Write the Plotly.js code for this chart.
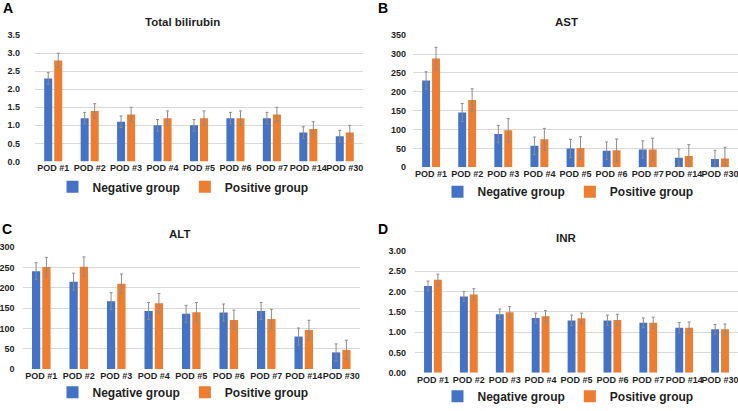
<!DOCTYPE html>
<html>
<head>
<meta charset="utf-8">
<script src="https://cdn.plot.ly/plotly-3.0.1.min.js"></script>
<style>html,body{margin:0;padding:0;background:#fff;}#chart{width:738px;height:411px;}</style>
</head>
<body>
<div id="chart"></div>
<script>
const categories = ['POD #1','POD #2','POD #3','POD #4','POD #5','POD #6','POD #7','POD #14','POD #30'];

const tbilNeg = [2.3, 1.2, 1.1, 1.0, 1.0, 1.2, 1.2, 0.8, 0.7];
const tbilPos = [2.8, 1.4, 1.3, 1.2, 1.2, 1.2, 1.3, 0.9, 0.8];
const tbilNegErr = [0.16, 0.16, 0.16, 0.16, 0.16, 0.16, 0.16, 0.16, 0.16];
const tbilPosErr = [0.2, 0.2, 0.2, 0.2, 0.2, 0.2, 0.2, 0.2, 0.2];

const astNeg = [230, 145, 88, 57, 50, 44, 47, 25, 22];
const astPos = [288, 178, 98, 74, 51, 45, 47, 30, 23];
const astNegErr = [23, 24, 23, 23, 24, 23, 23, 23, 23];
const astPosErr = [30, 30, 31, 29, 30, 30, 30, 30, 30];

const altNeg = [241, 215, 167, 143, 136, 139, 143, 80, 41];
const altPos = [251, 252, 210, 162, 140, 121, 123, 96, 47];
const altNegErr = [21, 21, 21, 21, 21, 21, 21, 21, 21];
const altPosErr = [24, 24, 24, 24, 24, 24, 24, 24, 24];

const inrNeg = [2.14, 1.88, 1.44, 1.35, 1.29, 1.29, 1.23, 1.11, 1.07];
const inrPos = [2.29, 1.93, 1.49, 1.39, 1.34, 1.30, 1.23, 1.11, 1.07];
const inrNegErr = [0.12, 0.12, 0.13, 0.12, 0.13, 0.13, 0.12, 0.13, 0.12];
const inrPosErr = [0.14, 0.14, 0.14, 0.14, 0.13, 0.14, 0.14, 0.14, 0.13];

const seriesNames = ['Negative group', 'Positive group'];
const colors = ['#4472C4', '#ED7D31'];

const panels = [
  {neg: tbilNeg, pos: tbilPos, ne: tbilNegErr, pe: tbilPosErr, ax: ''},
  {neg: astNeg, pos: astPos, ne: astNegErr, pe: astPosErr, ax: '2'},
  {neg: altNeg, pos: altPos, ne: altNegErr, pe: altPosErr, ax: '3'},
  {neg: inrNeg, pos: inrPos, ne: inrNegErr, pe: inrPosErr, ax: '4'}
];

const FAMILY = 'Liberation Sans';
const TEXT = '#1f1f1f';

const traces = [];
panels.forEach((p, i) => {
  const legendId = i === 0 ? 'legend' : 'legend' + (i + 1);
  [[p.neg, p.ne], [p.pos, p.pe]].forEach((s, j) => {
    traces.push({
      type: 'bar',
      x: categories,
      y: s[0],
      name: '<b>' + seriesNames[j] + '</b>',
      marker: {color: colors[j]},
      error_y: {type: 'data', array: s[1], visible: true, color: '#8c8c8c', thickness: 1, width: 1.5},
      xaxis: 'x' + p.ax,
      yaxis: 'y' + p.ax,
      legend: legendId,
      hoverinfo: 'x+y'
    });
  });
});

const tickFont = {family: FAMILY, size: 9, color: TEXT, weight: 700};
function xa(domain, range) {
  return {domain: domain, range: range, type: 'category', showgrid: false, zeroline: false, showline: false,
          ticks: '', tickangle: 0, tickfont: tickFont, fixedrange: true,
          tickmode: 'array', tickvals: categories, ticktext: categories.map(c => '<b>' + c + '</b>')};
}
function ya(domain, range, dtick, fmt, standoff) {
  return {domain: domain, range: range, dtick: dtick, tickformat: fmt, showgrid: true, gridcolor: '#d9d9d9',
          gridwidth: 1, zeroline: false, showline: false, ticks: '', tickfont: tickFont,
          tickprefix: '<b>', ticksuffix: '</b>',
          ticklabelstandoff: standoff, fixedrange: true};
}

const legFont = {family: FAMILY, size: 12, color: TEXT, weight: 700};
function leg(x, y) {
  return {orientation: 'h', x: x, y: y, xanchor: 'center', yanchor: 'middle', font: legFont,
          bgcolor: 'rgba(0,0,0,0)', itemclick: false, itemdoubleclick: false, traceorder: 'normal', itemwidth: 30};
}

const titleFont = {family: FAMILY, size: 11.5, color: TEXT, weight: 700};
const letterFont = {family: FAMILY, size: 14, color: '#000', weight: 700};
function ann(text, x, y, font, xanchor) {
  return {text: '<b>' + text + '</b>', x: x, y: y, xref: 'paper', yref: 'paper', showarrow: false, font: font,
          xanchor: xanchor, yanchor: 'middle'};
}

const layout = {
  width: 738, height: 411,
  margin: {l: 0, r: 0, t: 0, b: 0},
  paper_bgcolor: '#fff', plot_bgcolor: '#fff',
  font: {family: FAMILY, color: TEXT},
  barmode: 'group', bargap: 0.45, bargroupgap: 0.2,
  xaxis: Object.assign(xa([35/738, 363/738], [-0.5, 8.5]), {anchor: 'y'}),
  yaxis: Object.assign(ya([1-165/411, 1-36/411], [0, 3.5], 0.5, '.1f', 14), {anchor: 'x'}),
  xaxis2: Object.assign(xa([413/738, 1], [-0.5, 8.5]), {anchor: 'y2'}),
  yaxis2: Object.assign(ya([1-171/411, 1-36/411], [0, 350], 50, 'd', 6), {anchor: 'x2'}),
  xaxis3: Object.assign(xa([22.5/738, 360/738], [-0.5, 8.5]), {anchor: 'y3'}),
  yaxis3: Object.assign(ya([1-377.3/411, 1-252.7/411], [0, 300], 50, 'd', 7), {anchor: 'x3'}),
  xaxis4: Object.assign(xa([415/738, 1], [-0.5, 8.5]), {anchor: 'y4'}),
  yaxis4: Object.assign(ya([1-381/411, 1-256.7/411], [0, 3], 0.5, '.2f', 8), {anchor: 'x4'}),
  legend: leg(183/738, 1-191/411),
  legend2: leg(568/738, 1-196/411),
  legend3: leg(183/738, 1-401/411),
  legend4: leg(568/738, 1-405/411),
  showlegend: true,
  annotations: [
    ann('Total bilirubin', 182/738, 1-22/411, titleFont, 'center'),
    ann('AST', 566/738, 1-22/411, titleFont, 'center'),
    ann('ALT', 180/738, 1-239/411, titleFont, 'center'),
    ann('INR', 566/738, 1-243/411, titleFont, 'center'),
    ann('A', 1/738, 1-8/411, letterFont, 'left'),
    ann('B', 376/738, 1-8/411, letterFont, 'left'),
    ann('C', 0/738, 1-234/411, letterFont, 'left'),
    ann('D', 376/738, 1-234/411, letterFont, 'left')
  ]
};

Plotly.newPlot('chart', traces, layout, {displayModeBar: false, staticPlot: true});
</script>
</body>
</html>
